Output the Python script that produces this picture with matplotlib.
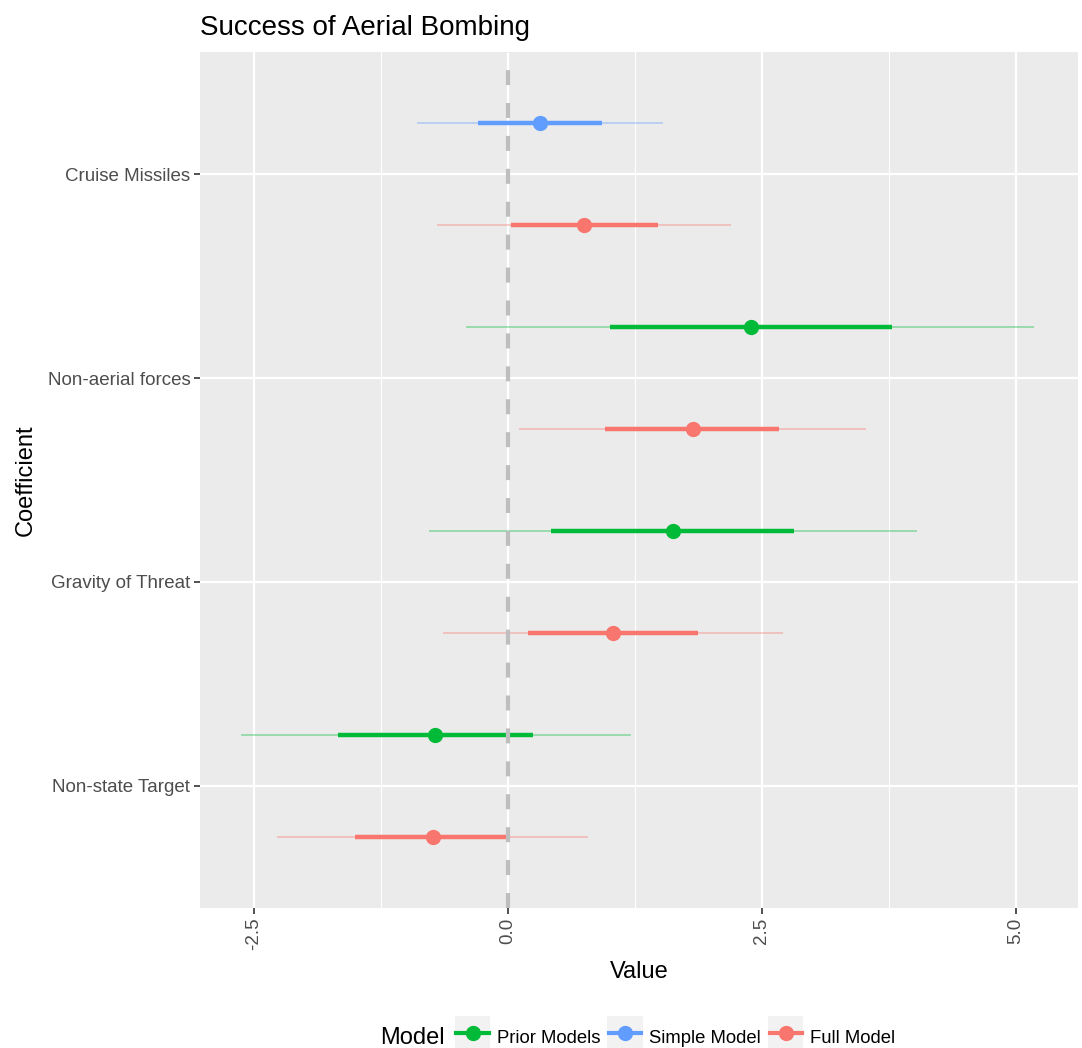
import numpy as np
import matplotlib
matplotlib.use("Agg")
import matplotlib.pyplot as plt
from matplotlib.lines import Line2D
from matplotlib.patches import Rectangle
from matplotlib.legend_handler import HandlerBase

plt.rcParams["font.family"] = ["Liberation Sans", "DejaVu Sans"]

# categories, bottom to top
categories = ["Non-state Target", "Gravity of Threat", "Non-aerial forces", "Cruise Missiles"]

# Full Model (all four coefficients)
full_est = [-0.74, 1.03, 1.82, 0.75]
full_lo_in = [-1.50, 0.20, 0.96, 0.03]
full_hi_in = [0.02, 1.87, 2.67, 1.48]
full_lo_out = [-2.27, -0.64, 0.11, -0.70]
full_hi_out = [0.79, 2.71, 3.52, 2.20]

# Prior Models (first three coefficients)
prior_est = [-0.72, 1.62, 2.39]
prior_lo_in = [-1.67, 0.42, 1.00]
prior_hi_in = [0.25, 2.82, 3.78]
prior_lo_out = [-2.63, -0.78, -0.41]
prior_hi_out = [1.21, 4.03, 5.18]

# Simple Model (Cruise Missiles only)
simple_est = [0.32]
simple_lo_in = [-0.29]
simple_hi_in = [0.93]
simple_lo_out = [-0.89]
simple_hi_out = [1.53]

GREEN, BLUE, RED = "#00BA38", "#619CFF", "#F8766D"

fig = plt.figure(figsize=(10.82, 10.48), dpi=100)
ax = fig.add_axes([200 / 1082, 1 - 908 / 1048, 878 / 1082, 856 / 1048])
ax.set_facecolor("#EBEBEB")


def draw(ypos, est, lo_in, hi_in, lo_out, hi_out, color):
    ypos = np.asarray(ypos, dtype=float)
    ax.hlines(ypos, lo_out, hi_out, color=color, lw=1.1, alpha=0.45, zorder=3)
    ax.hlines(ypos, lo_in, hi_in, color=color, lw=3.2, zorder=4)
    ax.plot(est, ypos, "o", color=color, ms=11, mec="none", zorder=5)


y = np.arange(1, len(categories) + 1)
draw(y - 0.25, full_est, full_lo_in, full_hi_in, full_lo_out, full_hi_out, RED)
draw(y[:3] + 0.25, prior_est, prior_lo_in, prior_hi_in, prior_lo_out, prior_hi_out, GREEN)
draw(y[3:] + 0.25, simple_est, simple_lo_in, simple_hi_in, simple_lo_out, simple_hi_out, BLUE)

ax.axvline(0, color="#BEBEBE", lw=3, dashes=(3.6, 4.3), zorder=6)

ax.set_xlim(-3.03, 5.61)
ax.set_ylim(0.4, 4.6)
ax.set_xticks([-2.5, 0, 2.5, 5.0])
ax.set_xticklabels(["-2.5", "0.0", "2.5", "5.0"], rotation=90, fontsize=13.5, color="#4D4D4D")
ax.set_xticks([-1.25, 1.25, 3.75], minor=True)
ax.set_yticks(y)
ax.set_yticklabels(categories, fontsize=13.5, color="#4D4D4D")
ax.grid(which="major", color="white", lw=1.6)
ax.grid(which="minor", axis="x", color="white", lw=0.8)
ax.set_axisbelow(True)
ax.tick_params(which="major", length=4, width=1.2, color="#333333", pad=3)
ax.tick_params(which="minor", length=0)
for s in ax.spines.values():
    s.set_visible(False)

ax.set_xlabel("Value", fontsize=17, labelpad=8)
ax.set_ylabel("Coefficient", fontsize=17, labelpad=8)
ax.set_title("Success of Aerial Bombing", fontsize=20, loc="left", pad=12)


class KeyHandler(HandlerBase):
    # grey key box with a line and a dot, like a ggplot pointrange key
    def create_artists(self, legend, orig, xd, yd, width, height, fontsize, trans):
        c = orig.get_color()
        box = Rectangle((xd, yd + height / 2 - width / 2), width, width,
                        facecolor="#F2F2F2", edgecolor="none", transform=trans)
        ln = Line2D([xd + 1, xd + width - 1], [yd + height / 2] * 2, color=c, lw=3,
                    transform=trans)
        dot = Line2D([xd + width / 2], [yd + height / 2], marker="o", ms=11, color=c,
                     mec="none", transform=trans)
        return [box, ln, dot]


handles = [Line2D([], [], color=c) for c in [GREEN, BLUE, RED]]
leg = fig.legend(handles, ["Prior Models", "Simple Model", "Full Model"],
                 handler_map={Line2D: KeyHandler()},
                 loc="center left", bbox_to_anchor=(455 / 1082, 1 - 1038 / 1048),
                 ncol=3, frameon=False, fontsize=13.3, handlelength=1.9, handleheight=1.0,
                 handletextpad=0.35, columnspacing=0.4, borderaxespad=0, borderpad=0)
fig.text(380 / 1082, 1 - 1038 / 1048, "Model", fontsize=17, va="center", ha="left")

fig.savefig("out.png", dpi=100)
